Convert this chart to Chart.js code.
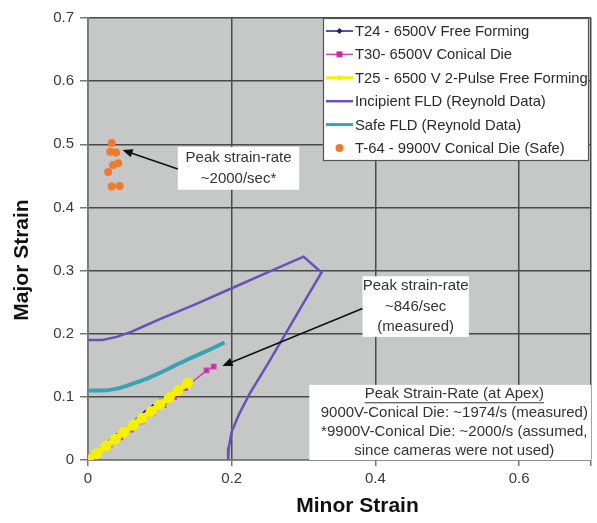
<!DOCTYPE html>
<html>
<head>
<meta charset="utf-8">
<script src="https://cdn.jsdelivr.net/npm/chart.js@4.4.1/dist/chart.umd.min.js"></script>
<style>
  html, body { margin: 0; padding: 0; background: #fff; overflow: hidden; }
  #wrap { position: relative; width: 597px; height: 523px; overflow: hidden; }
</style>
</head>
<body>
<div id="wrap"><canvas id="fldChart" width="601" height="523"></canvas></div>
<script>
// T24 - 6500V Free Forming
const t24Minor = [0, 0.01, 0.02, 0.03, 0.04, 0.05, 0.06, 0.07, 0.08, 0.09, 0.10, 0.11];
const t24Major = [0, 0.010, 0.019, 0.028, 0.038, 0.048, 0.057, 0.066, 0.075, 0.084, 0.093, 0.102];

// T30- 6500V Conical Die
const t30Minor = [0, 0.015, 0.03, 0.045, 0.06, 0.075, 0.09, 0.105, 0.12, 0.135, 0.165, 0.175];
const t30Major = [0, 0.012, 0.024, 0.036, 0.048, 0.061, 0.074, 0.087, 0.100, 0.114, 0.142, 0.148];

// T25 - 6500 V 2-Pulse Free Forming
const t25Minor = [0, 0.012, 0.025, 0.038, 0.05, 0.063, 0.075, 0.088, 0.10, 0.113, 0.125, 0.139];
const t25Major = [0, 0.010, 0.022, 0.033, 0.044, 0.055, 0.066, 0.077, 0.088, 0.099, 0.110, 0.122];

// Incipient FLD (Reynold Data)
const incipientMinor = [0, 0.02, 0.04, 0.06, 0.08, 0.10, 0.15, 0.20, 0.25, 0.30, 0.325, 0.30, 0.275, 0.25, 0.225, 0.21, 0.20, 0.196, 0.195];
const incipientMajor = [0.19, 0.19, 0.195, 0.203, 0.213, 0.223, 0.247, 0.272, 0.297, 0.322, 0.297, 0.249, 0.200, 0.152, 0.105, 0.072, 0.045, 0.02, 0];

// Safe FLD (Reynold Data)
const safeMinor = [0, 0.02, 0.04, 0.06, 0.08, 0.10, 0.12, 0.14, 0.16, 0.19];
const safeMajor = [0.11, 0.11, 0.113, 0.12, 0.128, 0.138, 0.149, 0.16, 0.17, 0.186];

// T-64 - 9900V Conical Die (Safe)
const t64Minor = [0.033, 0.031, 0.039, 0.035, 0.028, 0.042, 0.033, 0.044];
const t64Major = [0.502, 0.488, 0.487, 0.467, 0.456, 0.470, 0.433, 0.434];

const seriesNames = [
  'T24 - 6500V Free Forming',
  'T30- 6500V Conical Die',
  'T25 - 6500 V 2-Pulse Free Forming',
  'Incipient FLD (Reynold Data)',
  'Safe FLD (Reynold Data)',
  'T-64 - 9900V Conical Die (Safe)'
];

const xTicks = [0, 0.2, 0.4, 0.6];
const yTicks = [0, 0.1, 0.2, 0.3, 0.4, 0.5, 0.6, 0.7];

const toPoints = (xs, ys) => xs.map((x, i) => ({ x: x, y: ys[i] }));

const FONT = '"Liberation Sans", Arial, sans-serif';

// text boxes and arrows, placed in data units
const callouts = [
  { lines: ['Peak strain-rate', '~2000/sec*'], box: [0.125, 0.496, 0.294, 0.428],
    arrow: [0.125, 0.461, 0.048, 0.491] },
  { lines: ['Peak strain-rate', '~846/sec', '(measured)'], box: [0.382, 0.291, 0.53, 0.195],
    arrow: [0.382, 0.240, 0.187, 0.149] },
  { lines: ['Peak Strain-Rate (at Apex)', '9000V-Conical Die: ~1974/s (measured)',
            '*9900V-Conical Die: ~2000/s (assumed,', 'since cameras were not used)'],
    box: [0.308, 0.119, 0.7, 0], underlineFirst: true, clip: true }
];

const plotBackground = {
  id: 'plotBackground',
  beforeDraw(chart) {
    const { ctx, chartArea: a } = chart;
    ctx.save();
    ctx.fillStyle = '#c6c7c7';
    ctx.fillRect(a.left, a.top, a.right - a.left, a.bottom - a.top);
    ctx.restore();
  }
};

const calloutPlugin = {
  id: 'callouts',
  afterDatasetsDraw(chart) {
    const { ctx } = chart;
    const xs = chart.scales.x, ys = chart.scales.y;
    ctx.save();
    ctx.font = '15px ' + FONT;
    ctx.textAlign = 'center';
    ctx.textBaseline = 'middle';
    callouts.forEach(c => {
      const l = xs.getPixelForValue(c.box[0]), t = ys.getPixelForValue(c.box[1]);
      const r = xs.getPixelForValue(c.box[2]), b = ys.getPixelForValue(c.box[3]);
      ctx.fillStyle = '#ffffff';
      ctx.fillRect(l, t, r - l, b - t);
      ctx.save();
      if (c.clip) { ctx.beginPath(); ctx.rect(l, t, r - l, b - t); ctx.clip(); }
      const lh = (b - t) / c.lines.length;
      const cx = c.clip ? l + 145 : (l + r) / 2;
      ctx.fillStyle = '#333';
      c.lines.forEach((s, i) => {
        const cy = t + lh * (i + 0.5);
        ctx.fillText(s, cx, cy);
        if (i === 0 && c.underlineFirst) {
          const w = ctx.measureText(s).width;
          ctx.strokeStyle = '#333';
          ctx.lineWidth = 1;
          ctx.beginPath();
          ctx.moveTo(cx - w / 2, cy + 8.5);
          ctx.lineTo(cx + w / 2, cy + 8.5);
          ctx.stroke();
        }
      });
      ctx.restore();
      if (c.arrow) {
        const x0 = xs.getPixelForValue(c.arrow[0]), y0 = ys.getPixelForValue(c.arrow[1]);
        const x1 = xs.getPixelForValue(c.arrow[2]), y1 = ys.getPixelForValue(c.arrow[3]);
        const ang = Math.atan2(y1 - y0, x1 - x0);
        ctx.strokeStyle = '#111';
        ctx.fillStyle = '#111';
        ctx.lineWidth = 1.6;
        ctx.beginPath();
        ctx.moveTo(x0, y0);
        ctx.lineTo(x1 - 6 * Math.cos(ang), y1 - 6 * Math.sin(ang));
        ctx.stroke();
        ctx.beginPath();
        ctx.moveTo(x1, y1);
        ctx.lineTo(x1 - 11 * Math.cos(ang - 0.4), y1 - 11 * Math.sin(ang - 0.4));
        ctx.lineTo(x1 - 11 * Math.cos(ang + 0.4), y1 - 11 * Math.sin(ang + 0.4));
        ctx.closePath();
        ctx.fill();
      }
    });
    ctx.restore();
  }
};

// axis titles sit a little off centre in the original
const axisTitles = {
  id: 'axisTitles',
  afterDraw(chart) {
    const { ctx, chartArea: a } = chart;
    ctx.save();
    ctx.font = 'bold 21px ' + FONT;
    ctx.fillStyle = '#111';
    ctx.textAlign = 'center';
    ctx.textBaseline = 'middle';
    ctx.fillText('Minor Strain', (a.left + a.right) / 2 + 18, a.bottom + 46);
    ctx.translate(22, (a.top + a.bottom) / 2 + 21);
    ctx.rotate(-Math.PI / 2);
    ctx.fillText('Major Strain', 0, 0);
    ctx.restore();
  }
};

// legend box in the upper right corner of the plot
const boxLegend = {
  id: 'boxLegend',
  afterDraw(chart) {
    const { ctx, chartArea: a } = chart;
    const left = a.right - 268, top = a.top, width = 265, height = 142;
    ctx.save();
    ctx.fillStyle = '#ffffff';
    ctx.fillRect(left, top, width, height);
    ctx.strokeStyle = '#555';
    ctx.lineWidth = 1.2;
    ctx.strokeRect(left + 0.5, top + 0.5, width, height);
    ctx.font = '14.8px ' + FONT;
    ctx.textBaseline = 'middle';
    chart.data.datasets.forEach((ds, i) => {
      const y = top + 13 + i * 23.4;
      const x0 = left + 3, x1 = left + 30;
      if (ds.showLine !== false) {
        ctx.strokeStyle = ds.borderColor;
        ctx.lineWidth = Math.min(ds.borderWidth, 3);
        ctx.beginPath();
        ctx.moveTo(x0, y);
        ctx.lineTo(x1, y);
        ctx.stroke();
      }
      if (ds.pointRadius > 0) {
        ctx.fillStyle = ds.pointBackgroundColor;
        const r = ds.pointRadius;
        const cx = (x0 + x1) / 2;
        ctx.beginPath();
        if (ds.pointStyle === 'rect') ctx.rect(cx - r, y - r, 2 * r, 2 * r);
        else if (ds.pointStyle === 'rectRot') {
          ctx.moveTo(cx, y - r - 1); ctx.lineTo(cx + r + 1, y); ctx.lineTo(cx, y + r + 1); ctx.lineTo(cx - r - 1, y);
        } else ctx.arc(cx, y, r, 0, Math.PI * 2);
        ctx.fill();
      }
      ctx.fillStyle = '#2a2a2a';
      ctx.fillText(ds.label, left + 32, y + 1);
    });
    ctx.restore();
  }
};

new Chart(document.getElementById('fldChart'), {
  type: 'scatter',
  data: {
    datasets: [
      { label: seriesNames[0], data: toPoints(t24Minor, t24Major), showLine: true,
        borderColor: '#1c1c80', backgroundColor: '#1c1c80', pointBackgroundColor: '#1c1c80',
        borderWidth: 1.5, pointRadius: 2, pointStyle: 'rectRot', order: 1 },
      { label: seriesNames[1], data: toPoints(t30Minor, t30Major), showLine: true,
        borderColor: '#d040b0', backgroundColor: '#c030a0', pointBackgroundColor: '#c030a0',
        borderWidth: 1.5, pointRadius: 3, pointStyle: 'rect', order: 2 },
      { label: seriesNames[2], data: toPoints(t25Minor, t25Major), showLine: true,
        borderColor: '#f4f000', backgroundColor: '#f4f000', pointBackgroundColor: '#f4f000',
        borderWidth: 6, pointRadius: 2.5, pointStyle: 'circle', order: 0 },
      { label: seriesNames[3], data: toPoints(incipientMinor, incipientMajor), showLine: true,
        borderColor: '#6a50b8', backgroundColor: '#6a50b8', pointBackgroundColor: '#6a50b8',
        borderWidth: 2.5, pointRadius: 0, order: 3 },
      { label: seriesNames[4], data: toPoints(safeMinor, safeMajor), showLine: true,
        borderColor: '#3aa2b4', backgroundColor: '#3aa2b4', pointBackgroundColor: '#3aa2b4',
        borderWidth: 4, pointRadius: 0, cubicInterpolationMode: 'monotone', order: 4 },
      { label: seriesNames[5], data: toPoints(t64Minor, t64Major), showLine: false,
        borderColor: '#ee7a2e', backgroundColor: '#ee7a2e', pointBackgroundColor: '#ee7a2e',
        borderWidth: 0, pointRadius: 4, pointStyle: 'circle', order: 5 }
    ]
  },
  options: {
    responsive: false,
    animation: false,
    layout: { padding: { top: 18, right: 0, left: 0, bottom: 0 } },
    plugins: {
      legend: { display: false },
      tooltip: { enabled: false }
    },
    scales: {
      x: {
        type: 'linear', min: 0, max: 0.7,
        afterFit: s => { s.height = 63; },
        afterBuildTicks: s => { s.ticks = xTicks.concat([0.7]).map(v => ({ value: v })); },
        grid: { color: '#4a4a4a', lineWidth: 1.5, tickLength: 6, tickColor: '#777' },
        border: { color: '#777', width: 1.5 },
        ticks: {
          padding: 4, color: '#3a3a3a',
          font: { family: FONT, size: 15 },
          callback: v => (xTicks.includes(v) ? String(v) : '')
        }
      },
      y: {
        type: 'linear', min: 0, max: 0.7,
        afterFit: s => { s.width = 88; },
        afterBuildTicks: s => { s.ticks = yTicks.map(v => ({ value: v })); },
        grid: { color: '#4a4a4a', lineWidth: 1.5, tickLength: 8, tickColor: '#777' },
        border: { color: '#777', width: 1.5 },
        ticks: {
          padding: 6, color: '#3a3a3a',
          font: { family: FONT, size: 15 },
          callback: v => String(v)
        }
      }
    }
  },
  plugins: [plotBackground, calloutPlugin, boxLegend, axisTitles]
});
</script>
</body>
</html>
